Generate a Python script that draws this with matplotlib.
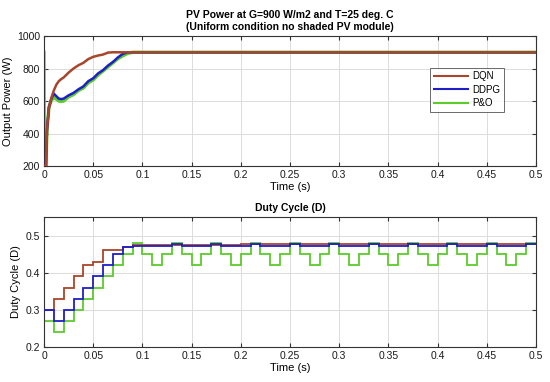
import matplotlib
matplotlib.use("Agg")
import matplotlib.pyplot as plt

plt.rcParams['font.family'] = ['Liberation Sans', 'DejaVu Sans']

# ---------------- data ----------------
series_names = ["DQN", "DDPG", "P&O"]
colors = ["#A8452A", "#1F1FC8", "#5CCB2B"]

power_title = "PV Power at G=900 W/m2 and T=25 deg. C\n(Uniform condition no shaded PV module)"
duty_title = "Duty Cycle (D)"

dqn_t = [0, 0.002, 0.003, 0.005, 0.0075, 0.01, 0.0125, 0.015, 0.0175, 0.02, 0.025, 0.03,
         0.035, 0.04, 0.045, 0.05, 0.055, 0.06, 0.065, 0.07, 0.5]
dqn_p = [200, 200, 420, 560, 620, 665, 700, 722, 735, 745, 775, 800,
         820, 835, 858, 872, 880, 886, 898, 900, 900]

ddpg_t = [0, 0.002, 0.003, 0.005, 0.0075, 0.01, 0.0125, 0.015, 0.0175, 0.02, 0.025, 0.03,
          0.035, 0.04, 0.045, 0.05, 0.055, 0.06, 0.065, 0.07, 0.075, 0.08, 0.085, 0.5]
ddpg_p = [200, 200, 420, 560, 615, 645, 630, 615, 612, 615, 635, 650,
          672, 690, 722, 740, 770, 790, 818, 840, 868, 890, 900, 900]

pno_t = [0, 0.0003, 0.002, 0.003, 0.005, 0.0075, 0.01, 0.0125, 0.015, 0.0175, 0.02, 0.025,
         0.03, 0.035, 0.04, 0.045, 0.05, 0.055, 0.06, 0.065, 0.07, 0.075, 0.08, 0.085,
         0.09, 0.5]
pno_p = [900, 200, 200, 420, 560, 605, 622, 612, 600, 597, 600, 625,
         640, 665, 680, 712, 730, 760, 785, 810, 835, 860, 878, 893,
         900, 900]

# duty cycle step edges (s) and values per step
duty_edges = [0.00, 0.01, 0.02, 0.03, 0.04, 0.05, 0.06, 0.07, 0.08, 0.09,
              0.10, 0.11, 0.12, 0.13, 0.14, 0.15, 0.16, 0.17, 0.18, 0.19,
              0.20, 0.21, 0.22, 0.23, 0.24, 0.25, 0.26, 0.27, 0.28, 0.29,
              0.30, 0.31, 0.32, 0.33, 0.34, 0.35, 0.36, 0.37, 0.38, 0.39,
              0.40, 0.41, 0.42, 0.43, 0.44, 0.45, 0.46, 0.47, 0.48, 0.49, 0.50]

dqn_d = [0.30, 0.33, 0.36, 0.39, 0.42, 0.43, 0.46, 0.462, 0.47, 0.474,
         0.475, 0.475, 0.475, 0.475, 0.475, 0.475, 0.475, 0.475, 0.475, 0.475,
         0.476, 0.476, 0.476, 0.476, 0.476, 0.477, 0.477, 0.477, 0.477, 0.477,
         0.477, 0.477, 0.477, 0.477, 0.477, 0.477, 0.478, 0.478, 0.478, 0.478,
         0.478, 0.478, 0.478, 0.478, 0.478, 0.478, 0.478, 0.478, 0.478, 0.478]

ddpg_d = [0.30, 0.27, 0.30, 0.33, 0.36, 0.39, 0.42, 0.45, 0.47, 0.471,
          0.472, 0.471, 0.471, 0.476, 0.471, 0.471, 0.471, 0.476, 0.471, 0.471,
          0.471, 0.476, 0.471, 0.471, 0.471, 0.476, 0.471, 0.471, 0.471, 0.476,
          0.471, 0.471, 0.471, 0.476, 0.471, 0.471, 0.471, 0.476, 0.471, 0.471,
          0.471, 0.476, 0.471, 0.471, 0.471, 0.476, 0.471, 0.471, 0.471, 0.476]

pno_d = [0.27, 0.24, 0.27, 0.30, 0.33, 0.36, 0.39, 0.42, 0.45, 0.48,
         0.45, 0.42, 0.45, 0.48, 0.45, 0.42, 0.45, 0.48, 0.45, 0.42,
         0.45, 0.48, 0.45, 0.42, 0.45, 0.48, 0.45, 0.42, 0.45, 0.48,
         0.45, 0.42, 0.45, 0.48, 0.45, 0.42, 0.45, 0.48, 0.45, 0.42,
         0.45, 0.48, 0.45, 0.42, 0.45, 0.48, 0.45, 0.42, 0.45, 0.48]

x_ticks = [0, 0.05, 0.1, 0.15, 0.2, 0.25, 0.3, 0.35, 0.4, 0.45, 0.5]
x_ticklabels = ["0", "0.05", "0.1", "0.15", "0.2", "0.25", "0.3", "0.35", "0.4", "0.45", "0.5"]
p_ticks = [200, 400, 600, 800, 1000]
d_ticks = [0.2, 0.3, 0.4, 0.5]
d_ticklabels = ["0.2", "0.3", "0.4", "0.5"]

# ---------------- figure ----------------
fig = plt.figure(figsize=(5.5, 3.82), dpi=100)
ax1 = fig.add_axes([0.08, 0.5654, 0.8945, 0.3403])
ax2 = fig.add_axes([0.08, 0.0916, 0.8945, 0.3403])

def style(ax):
    ax.set_xlim(0, 0.5)
    ax.set_xticks(x_ticks)
    ax.set_xticklabels(x_ticklabels)
    ax.grid(True, color="#DCDCDC", linewidth=0.7)
    ax.set_axisbelow(True)
    ax.tick_params(direction="in", top=True, right=True, length=3,
                   labelsize=7.5, color="#333333", labelcolor="#1A1A1A", pad=3)
    for s in ax.spines.values():
        s.set_color("#333333")
        s.set_linewidth(0.8)

lw = 1.8
ax1.plot(pno_t, pno_p, color=colors[2], lw=lw + 0.6, label=series_names[2], zorder=2)
ax1.plot(ddpg_t, ddpg_p, color=colors[1], lw=lw, label=series_names[1], zorder=3)
ax1.plot(dqn_t, dqn_p, color=colors[0], lw=lw, label=series_names[0], zorder=4)
ax1.set_ylim(200, 1000)
ax1.set_yticks(p_ticks)
style(ax1)
ax1.set_title(power_title, fontsize=7.5, fontweight="bold", pad=4, linespacing=1.3)
ax1.set_xlabel("Time (s)", fontsize=8, labelpad=1)
ax1.set_ylabel("Output Power (W)", fontsize=8, labelpad=3)
handles, labels = ax1.get_legend_handles_labels()
order = [2, 1, 0]
leg = ax1.legend([handles[i] for i in order], [labels[i] for i in order],
                 loc="upper right", bbox_to_anchor=(0.945, 0.795), fontsize=7,
                 frameon=True, fancybox=False, edgecolor="#444444",
                 handlelength=3.5, borderpad=0.4, labelspacing=0.35, handletextpad=0.4)
leg.get_frame().set_linewidth(0.7)
for h in leg.get_lines():
    h.set_linewidth(1.5)

lw2 = 1.3
ax2.stairs(pno_d, duty_edges, color=colors[2], lw=lw2, baseline=None, zorder=2)
ax2.stairs(dqn_d, duty_edges, color=colors[0], lw=lw2, baseline=None, zorder=3)
ax2.stairs(ddpg_d, duty_edges, color=colors[1], lw=lw2, baseline=None, zorder=4)
ax2.set_ylim(0.2, 0.55)
ax2.set_yticks(d_ticks)
ax2.set_yticklabels(d_ticklabels)
style(ax2)
ax2.set_title(duty_title, fontsize=7.5, fontweight="bold", pad=4)
ax2.set_xlabel("Time (s)", fontsize=8, labelpad=1)
ax2.set_ylabel("Duty Cycle (D)", fontsize=8, labelpad=3)

fig.savefig("out.png", dpi=100)
